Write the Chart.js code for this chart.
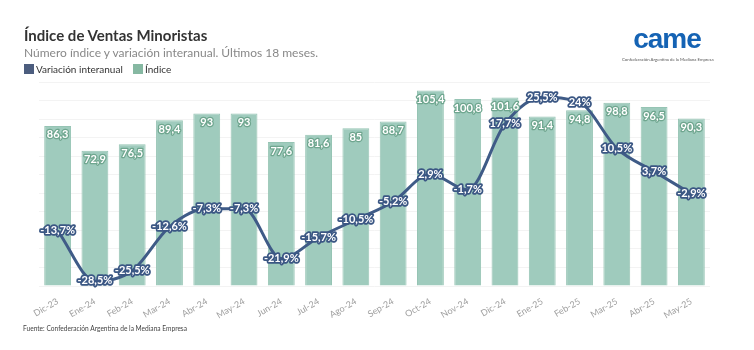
<!DOCTYPE html>
<html>
<head>
<meta charset="utf-8">
<script src="https://cdn.jsdelivr.net/npm/chart.js@4"></script>
<style>
  body { margin: 0; background: #fff; font-family: Lato, "Open Sans", sans-serif; }
  #wrap { position: relative; width: 754px; height: 350px; overflow: hidden; }
  #c { position: absolute; left: 0; top: 0; }
  .title { position: absolute; left: 24px; top: 26px; font-size: 15px; font-weight: bold; color: #333; }
  .sub { position: absolute; left: 24px; top: 45px; font-size: 12px; color: #888; }
  .legend { position: absolute; left: 24px; top: 63px; font-size: 10px; color: #333; }
  .legend span.sq { display: inline-block; width: 10px; height: 10px; vertical-align: -1px; margin-right: 2px; }
  .foot { position: absolute; left: 23px; top: 324px; font-size: 6.6px; color: #444; }
  .logo { position: absolute; left: 622px; top: 22px; width: 90px; text-align: center; }
  .logo .big { font-size: 28px; font-weight: 900; color: #1563b4; letter-spacing: -1px; line-height: 34px; font-family: "Liberation Sans", Arial, sans-serif; }
  .logo .small { font-size: 4.3px; color: #555; margin-top: 1px; white-space: nowrap; }
</style>
</head>
<body>
<div id="wrap">
  <canvas id="c" width="754" height="350"></canvas>
  <div class="title">Índice de Ventas Minoristas</div>
  <div class="sub">Número índice y variación interanual. Últimos 18 meses.</div>
  <div class="legend"><span class="sq" style="background:#4c5d7e"></span>Variación interanual &nbsp;&nbsp; <span class="sq" style="background:#86b8a2"></span>Índice</div>
  <div class="foot">Fuente: Confederación Argentina de la Mediana Empresa</div>
  <div class="logo"><div class="big">came</div><div class="small">Confederación Argentina de la Mediana Empresa</div></div>
</div>
<script>
// datos
const meses = ['Dic-23', 'Ene-24', 'Feb-24', 'Mar-24', 'Abr-24', 'May-24', 'Jun-24', 'Jul-24', 'Ago-24',
  'Sep-24', 'Oct-24', 'Nov-24', 'Dic-24', 'Ene-25', 'Feb-25', 'Mar-25', 'Abr-25', 'May-25'];
const indice = [86.3, 72.9, 76.5, 89.4, 93, 93, 77.6, 81.6, 85, 88.7, 105.4, 100.8, 101.6, 91.4, 94.8, 98.8, 96.5, 90.3];
const variacion = [-13.7, -28.5, -25.5, -12.6, -7.3, -7.3, -21.9, -15.7, -10.5, -5.2, 2.9, -1.7, 17.7, 25.5, 24, 10.5, 3.7, -2.9];

function fmt(v) {
  return String(v).replace('.', ',');
}

// etiquetas sobre barras y linea
const etiquetas = {
  id: 'etiquetas',
  afterDatasetsDraw(chart) {
    const ctx = chart.ctx;
    ctx.save();
    ctx.textAlign = 'center';
    ctx.textBaseline = 'middle';
    ctx.lineJoin = 'round';
    ctx.font = 'bold 11px Lato, sans-serif';

    const barras = chart.getDatasetMeta(1);
    barras.data.forEach((el, i) => {
      const t = fmt(indice[i]);
      ctx.lineWidth = 2.5;
      ctx.strokeStyle = '#6fa68f';
      ctx.strokeText(t, el.x, el.y + 9);
      ctx.fillStyle = '#fff';
      ctx.fillText(t, el.x, el.y + 9);
    });

    const linea = chart.getDatasetMeta(0);
    linea.data.forEach((el, i) => {
      const t = fmt(variacion[i]) + '%';
      ctx.lineWidth = 3.5;
      ctx.strokeStyle = '#3b5784';
      ctx.strokeText(t, el.x, el.y);
      ctx.fillStyle = '#fff';
      ctx.fillText(t, el.x, el.y);
    });
    ctx.restore();
  }
};

const ctx = document.getElementById('c').getContext('2d');
new Chart(ctx, {
  data: {
    labels: meses,
    datasets: [
      {
        type: 'line',
        label: 'Variación interanual',
        data: variacion,
        yAxisID: 'y1',
        borderColor: '#3f5b87',
        borderWidth: 3,
        pointRadius: 0,
        cubicInterpolationMode: 'monotone',
        order: 0
      },
      {
        type: 'bar',
        label: 'Índice',
        data: indice,
        yAxisID: 'y',
        backgroundColor: '#9fcbbd',
        borderColor: '#96c4b4',
        borderWidth: 1,
        order: 1
      }
    ]
  },
  options: {
    responsive: false,
    animation: false,
    layout: { padding: { left: 39, right: 44, top: 82, bottom: 0 } },
    plugins: {
      legend: { display: false },
      tooltip: { enabled: false }
    },
    scales: {
      x: {
        grid: { display: false },
        border: { display: false },
        ticks: {
          color: '#a0a0a0',
          font: { size: 9, family: 'Lato, sans-serif' },
          maxRotation: 30,
          minRotation: 30,
          padding: 2
        },
        afterFit(scale) { scale.height = 64; }
      },
      y: {
        min: 0,
        max: 110,
        ticks: { display: false, stepSize: 10 },
        grid: { color: '#f3f3f3', drawTicks: false },
        border: { display: false },
        afterFit(scale) { scale.width = 0; }
      },
      y1: {
        display: false,
        min: -30,
        max: 30
      }
    }
  },
  plugins: [etiquetas]
});
</script>
</body>
</html>
